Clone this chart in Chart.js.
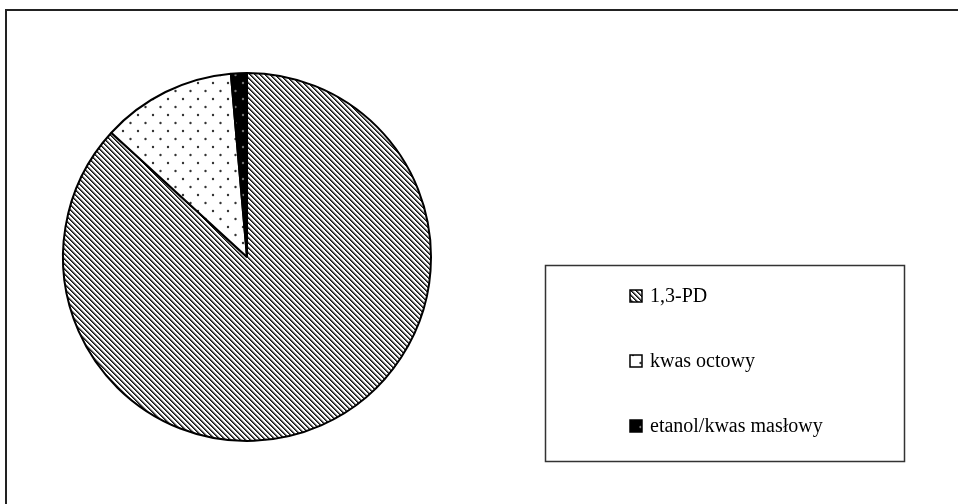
<!DOCTYPE html>
<html>
<head>
<meta charset="utf-8">
<script src="https://cdn.jsdelivr.net/npm/chart.js@4"></script>
<style>
  html, body { margin: 0; padding: 0; background: #fff; }
  #wrap { width: 958px; height: 504px; }
</style>
</head>
<body>
<div id="wrap"><canvas id="pieChart" width="958" height="504"></canvas></div>
<script>
const labels = ['1,3-PD', 'kwas octowy', 'etanol/kwas masłowy'];
const shares = [86.8, 11.8, 1.4];

// fill patterns (hatched, dotted, black)
function makeHatch() {
    const c = document.createElement('canvas');
    c.width = 5; c.height = 5;
    const g = c.getContext('2d');
    g.fillStyle = '#fff';
    g.fillRect(0, 0, 5, 5);
    for (let y = 0; y < 5; y++) {
        for (let x = 0; x < 5; x++) {
            const d = ((x - y) % 5 + 5) % 5;
            if (d === 0) { g.fillStyle = '#111'; g.fillRect(x, y, 1, 1); }
            if (d === 1) { g.fillStyle = '#555'; g.fillRect(x, y, 1, 1); }
            if (d === 2) { g.fillStyle = '#bbb'; g.fillRect(x, y, 1, 1); }
        }
    }
    return g.createPattern(c, 'repeat');
}

function makeDots(bg, dot) {
    const c = document.createElement('canvas');
    c.width = 15; c.height = 16;
    const g = c.getContext('2d');
    g.fillStyle = bg;
    g.fillRect(0, 0, 15, 16);
    g.fillStyle = dot;
    g.beginPath(); g.arc(3, 3, 1.2, 0, Math.PI * 2); g.fill();
    g.beginPath(); g.arc(10.5, 11, 1.2, 0, Math.PI * 2); g.fill();
    return g.createPattern(c, 'repeat');
}

const fills = [makeHatch(), makeDots('#fff', '#333'), makeDots('#000', '#777')];

// outer frame + boxed legend like the original
const frameAndLegend = {
    id: 'frameAndLegend',
    afterDraw(chart) {
        const ctx = chart.ctx;
        ctx.save();
        ctx.strokeStyle = '#222';
        ctx.lineWidth = 2;
        ctx.beginPath();
        ctx.moveTo(6, 520);
        ctx.lineTo(6, 10);
        ctx.lineTo(970, 10);
        ctx.stroke();

        ctx.strokeStyle = '#333';
        ctx.lineWidth = 1.5;
        ctx.strokeRect(545.5, 265.5, 359, 196);

        const ds = chart.data.datasets[0];
        const rows = [296, 361, 426];
        ctx.font = '20px "Liberation Serif", "Times New Roman", serif';
        ctx.textBaseline = 'middle';
        ctx.textAlign = 'left';
        chart.data.labels.forEach((lab, i) => {
            const y = rows[i];
            ctx.fillStyle = ds.backgroundColor[i];
            ctx.fillRect(630, y - 6, 12, 12);
            ctx.strokeStyle = '#000';
            ctx.lineWidth = 1.5;
            ctx.strokeRect(630, y - 6, 12, 12);
            ctx.fillStyle = '#000';
            ctx.fillText(lab, 650, y + 1);
        });
        ctx.restore();
    }
};

new Chart(document.getElementById('pieChart').getContext('2d'), {
    type: 'pie',
    data: {
        labels: labels,
        datasets: [{
            data: shares,
            backgroundColor: fills,
            borderColor: '#000',
            borderWidth: 2
        }]
    },
    options: {
        responsive: false,
        animation: false,
        layout: { padding: { left: 62, top: 72, right: 526, bottom: 62 } },
        plugins: {
            legend: { display: false },
            tooltip: { enabled: false }
        }
    },
    plugins: [frameAndLegend]
});
</script>
</body>
</html>
